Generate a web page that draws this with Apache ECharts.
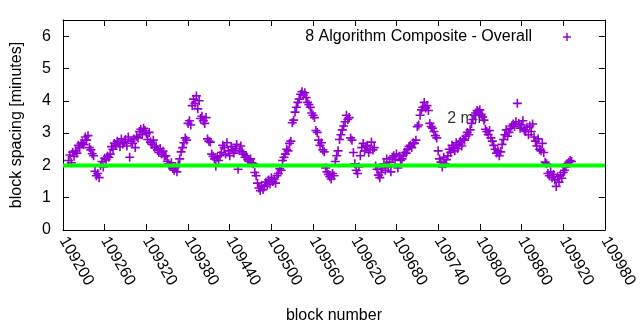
<!DOCTYPE html>
<html><head><meta charset="utf-8">
<script src="https://cdn.jsdelivr.net/npm/echarts@6/dist/echarts.min.js"></script>
<style>html,body{margin:0;padding:0;background:#fff}#c{width:640px;height:330px}</style>
</head><body><div id="c"></div><script>
const seriesName = '8 Algorithm Composite - Overall';
const xAxisTitle = 'block number';
const yAxisTitle = 'block spacing [minutes]';
const blockStart = 109208;
const blockStep = 2;
const spacingValues = [
  2.15, 2.32, 2.08, 2.41, 2.28, 2.45, 2.38, 2.62, 2.55, 2.68,
  2.70, 2.64, 2.88, 2.78, 2.92, 2.55, 2.48, 2.36, 2.30, 1.82,
  1.68, 1.75, 1.62, 2.00, 2.12, 1.95, 2.22, 2.18, 2.28, 2.25,
  2.35, 2.58, 2.50, 2.68, 2.62, 2.75, 2.70, 2.58, 2.82, 2.66,
  2.72, 2.80, 2.60, 2.88, 2.25, 2.75, 2.68, 2.82, 2.55, 2.90,
  2.85, 3.05, 3.12, 2.95, 3.15, 3.08, 2.98, 2.80, 3.02, 2.72,
  2.65, 2.78, 2.55, 2.60, 2.48, 2.40, 2.52, 2.35, 2.44, 2.28,
  2.30, 2.12, 2.05, 1.98, 2.08, 1.90, 1.85, 1.95, 1.80, 2.02,
  2.20, 2.42, 2.55, 2.70, 2.85, 2.78, 3.30, 3.38, 3.25, 3.85,
  4.05, 3.92, 4.15, 3.75, 4.00, 3.45, 3.52, 3.38, 3.30, 3.48,
  2.82, 2.75, 2.72, 2.35, 2.28, 2.20, 1.98, 2.25, 2.15, 2.30,
  2.40, 2.62, 2.55, 2.35, 2.70, 2.45, 2.30, 2.58, 2.48, 2.38,
  2.52, 2.65, 1.88, 2.45, 2.60, 2.42, 2.35, 2.25, 2.30, 2.18,
  2.12, 2.20, 2.08, 2.05, 1.78, 1.68, 1.45, 1.30, 1.22, 1.38,
  1.25, 1.35, 1.48, 1.40, 1.55, 1.42, 1.62, 1.50, 1.58, 1.45,
  1.68, 1.75, 1.90, 1.85, 2.15, 2.25, 2.35, 2.50, 2.45, 2.68,
  2.75, 3.32, 3.40, 3.65, 3.80, 3.95, 4.05, 4.20, 4.28, 4.18,
  4.25, 4.10, 3.95, 3.88, 3.80, 3.62, 3.55, 3.48, 3.08, 3.02,
  2.78, 2.62, 2.70, 2.48, 2.42, 1.92, 1.80, 1.72, 1.65, 1.58,
  1.75, 1.68, 2.12, 2.30, 2.45, 2.80, 2.95, 3.10, 3.22, 3.35,
  3.55, 3.42, 3.48, 2.85, 2.78, 2.40, 2.05, 1.85, 1.75, 1.95,
  2.30, 2.55, 2.68, 2.45, 2.58, 2.62, 2.40, 2.50, 2.72, 2.48,
  2.55, 1.98, 1.88, 1.70, 1.62, 1.78, 1.92, 2.05, 1.85, 2.20,
  1.95, 2.10, 1.80, 2.25, 2.30, 2.18, 2.35, 1.92, 2.28, 2.15,
  2.20, 2.32, 2.40, 2.38, 2.50, 2.58, 2.62, 2.55, 2.70, 2.68,
  2.78, 3.20, 3.25, 3.55, 3.72, 3.80, 3.95, 3.78, 3.85, 3.70,
  3.30, 3.20, 3.15, 3.05, 2.92, 2.85, 2.45, 2.20, 2.10, 1.95,
  2.25, 2.05, 2.18, 2.30, 2.50, 2.40, 2.62, 2.55, 2.45, 2.70,
  2.52, 2.65, 2.75, 2.60, 2.82, 2.78, 2.90, 3.02, 2.95, 3.10,
  3.30, 3.42, 3.55, 3.62, 3.70, 3.65, 3.72, 3.58, 3.50, 3.40,
  3.12, 3.05, 2.95, 3.08, 2.85, 2.75, 2.62, 2.50, 2.38, 2.45,
  2.30, 2.42, 2.65, 2.80, 2.95, 3.10, 2.90, 3.02, 3.15, 3.22,
  3.28, 3.20, 3.35, 3.92, 3.30, 3.15, 3.25, 3.38, 3.10, 3.05,
  3.18, 2.95, 3.22, 3.05, 3.28, 2.88, 2.75, 2.60, 2.82, 2.50,
  2.45, 2.68, 2.40, 2.10, 2.05, 1.75, 1.68, 1.80, 1.62, 1.72,
  1.55, 1.35, 1.65, 1.48, 1.70, 1.60, 1.78, 1.85, 1.95, 2.05, 2.10, 2.15, 2.12
];
const thresholdValue = 2;
const thresholdLabel = '2 min';
const thresholdLabelAt = [109753, 3.45];
const xMin = 109200, xMax = 109980, xStep = 60;
const yMin = 0, yMax = 6.5, yStep = 1;

const FONT = "'Liberation Sans', Arial, sans-serif";
const PURPLE = '#9400d3';
const PLUS = 'path://M4.1,0h1.8v4.1h4.1v1.8h-4.1v4.1h-1.8v-4.1h-4.1v-1.8h4.1z';

const points = spacingValues.map((v, i) => [blockStart + i * blockStep, v]);

const chart = echarts.init(document.getElementById('c'), null, {renderer: 'canvas'});
const axisCommon = {
  axisLine: {show: true, onZero: false, lineStyle: {color: '#000', width: 1}},
  axisTick: {show: true, inside: true, length: 6, lineStyle: {color: '#000'}},
  splitLine: {show: false}
};
chart.setOption({
  animation: false,
  backgroundColor: '#fff',
  textStyle: {fontFamily: FONT},
  grid: {left: 63, right: 31, top: 20, bottom: 100},
  legend: {
    right: 64, top: 24,
    data: [{name: seriesName, icon: PLUS}],
    align: 'right',
    itemWidth: 8, itemHeight: 8,
    textStyle: {fontFamily: FONT, fontSize: 16, color: '#000', padding: [0, 26, 0, 0]}
  },
  xAxis: [
    Object.assign({
      type: 'value', min: xMin, max: xMax, interval: xStep, position: 'bottom',
      name: xAxisTitle, nameLocation: 'middle', nameGap: 78,
      nameTextStyle: {fontFamily: FONT, fontSize: 16, color: '#000'},
      axisLabel: {rotate: -60, fontFamily: FONT, fontSize: 16, color: '#000', margin: 8, formatter: v => String(v)}
    }, axisCommon),
    Object.assign({
      type: 'value', min: xMin, max: xMax, interval: xStep, position: 'top',
      axisLabel: {show: false}
    }, axisCommon)
  ],
  yAxis: [
    Object.assign({
      type: 'value', min: yMin, max: yMax, interval: yStep, position: 'left',
      name: yAxisTitle, nameLocation: 'middle', nameGap: 38,
      nameTextStyle: {fontFamily: FONT, fontSize: 16, color: '#000'},
      axisLabel: {fontFamily: FONT, fontSize: 16, color: '#000', margin: 12, showMaxLabel: false}
    }, axisCommon),
    Object.assign({
      type: 'value', min: yMin, max: yMax, interval: yStep, position: 'right',
      axisLabel: {show: false}
    }, axisCommon)
  ],
  series: [
    {
      name: 'label', type: 'scatter', silent: true, z: 1,
      data: [thresholdLabelAt], symbolSize: 0,
      label: {show: true, formatter: thresholdLabel, position: 'right', distance: 0,
        fontFamily: FONT, fontSize: 16, color: '#000'}
    },
    {
      name: seriesName, type: 'scatter', z: 2,
      symbol: PLUS, symbolSize: 9,
      itemStyle: {color: PURPLE, opacity: 1},
      data: points
    },
    {
      name: 'threshold', type: 'line', z: 3, silent: true, symbol: 'none',
      lineStyle: {color: '#00ff00', width: 4},
      data: [[xMin, thresholdValue], [xMax, thresholdValue]]
    }
  ]
});
</script></body></html>
